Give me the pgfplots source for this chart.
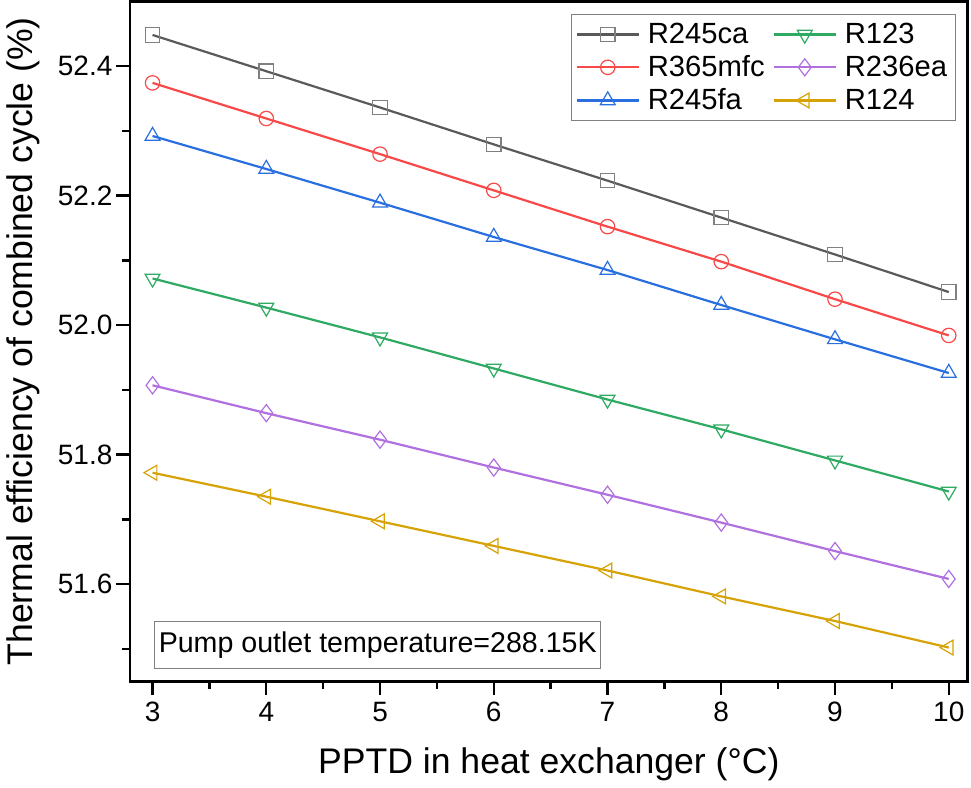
\documentclass[border=0pt]{standalone}
\usepackage{pgfplots}
\pgfplotsset{compat=1.18}
\usepackage{fontspec}
\setmainfont{Liberation Sans}
\definecolor{cgray}{HTML}{5A5A5A}
\definecolor{cgraym}{HTML}{808080}
\definecolor{cred}{HTML}{F84848}
\definecolor{cblue}{HTML}{2A6FE0}
\definecolor{cgreen}{HTML}{2EAA63}
\definecolor{cpurple}{HTML}{B070E0}
\definecolor{cgold}{HTML}{D6A205}
\begin{document}
\begin{tikzpicture}
\begin{axis}[
  scale only axis,
  width=419pt, height=340pt,
  xmin=2.8, xmax=10.167,
  ymin=51.45, ymax=52.5,
  xtick={3,4,5,6,7,8,9,10},
  ytick={51.6,51.8,52.0,52.2,52.4},
  minor xtick={3.5,4.5,5.5,6.5,7.5,8.5,9.5},
  minor ytick={51.5,51.7,51.9,52.1,52.3},
  tick align=outside,
  tick pos=left,
  major tick length=7pt,
  minor tick length=4pt,
  every tick/.style={black, line width=1.2pt},
  axis line style={line width=1.3pt},
  /pgf/number format/assume math mode=true,
  yticklabel style={inner xsep=1.5pt, /pgf/number format/fixed, /pgf/number format/fixed zerofill, /pgf/number format/precision=1},
  ticklabel style={font=\fontsize{14}{16}\selectfont},
  xlabel={PPTD in heat exchanger (°C)},
  ylabel={Thermal efficiency of combined cycle (\%)},
  label style={font=\fontsize{17.8}{20}\selectfont},
  xlabel style={yshift=-6pt},
  ylabel style={yshift=4pt},
  legend columns=3,
  transpose legend,
  legend style={at={(rel axis cs:1,1)}, anchor=north east, xshift=-6pt, yshift=-6.5pt,
    draw=gray, line width=0.6pt, font=\fontsize{14.6}{17}\selectfont,
    row sep=0.5pt, column sep=2pt, inner xsep=2pt, inner ysep=2pt,
    /tikz/every odd column/.append style={column sep=2pt}},
  legend cell align=left,
  legend image code/.code={\draw[mark repeat=2,mark phase=2,#1] plot coordinates {(0pt,0pt)(15.5pt,0pt)(31pt,0pt)};},
  every axis plot/.append style={line width=1.1pt, mark size=3.6pt},
]
\addplot[cgray, mark=square, mark options={draw=cgraym, fill=white, line width=0.6pt, solid}] coordinates {
(3,52.448)(4,52.392)(5,52.336)(6,52.279)(7,52.223)(8,52.166)(9,52.109)(10,52.051)};
\addlegendentry{R245ca}
\addplot[cred, mark=o, mark options={draw=cred, fill=white, line width=0.6pt, solid}] coordinates {
(3,52.374)(4,52.319)(5,52.264)(6,52.208)(7,52.152)(8,52.098)(9,52.040)(10,51.984)};
\addlegendentry{R365mfc}
\addplot[cblue, mark=triangle, mark size=4.3pt, mark options={draw=cblue, fill=white, line width=0.6pt, solid}] coordinates {
(3,52.292)(4,52.241)(5,52.189)(6,52.136)(7,52.085)(8,52.031)(9,51.978)(10,51.926)};
\addlegendentry{R245fa}
\addplot[cgreen, mark=triangle, mark size=4.3pt, mark options={draw=cgreen, fill=white, line width=0.6pt, solid, rotate=180}] coordinates {
(3,52.072)(4,52.027)(5,51.981)(6,51.933)(7,51.885)(8,51.839)(9,51.791)(10,51.743)};
\addlegendentry{R123}
\addplot[cpurple, mark=diamond, mark size=4.3pt, mark options={draw=cpurple, fill=white, line width=0.6pt, solid}] coordinates {
(3,51.907)(4,51.864)(5,51.823)(6,51.780)(7,51.738)(8,51.695)(9,51.651)(10,51.608)};
\addlegendentry{R236ea}
\addplot[cgold, mark=triangle, mark size=4.3pt, mark options={draw=cgold, fill=white, line width=0.6pt, solid, rotate=90}] coordinates {
(3,51.772)(4,51.735)(5,51.697)(6,51.659)(7,51.621)(8,51.581)(9,51.543)(10,51.502)};
\addlegendentry{R124}
\node[draw=gray, line width=0.6pt, fill=white, font=\fontsize{14.3}{16}\selectfont, inner xsep=2pt, inner ysep=5pt] at (axis cs:4.98,51.506) {Pump outlet temperature=288.15K};
\end{axis}
\end{tikzpicture}
\end{document}
